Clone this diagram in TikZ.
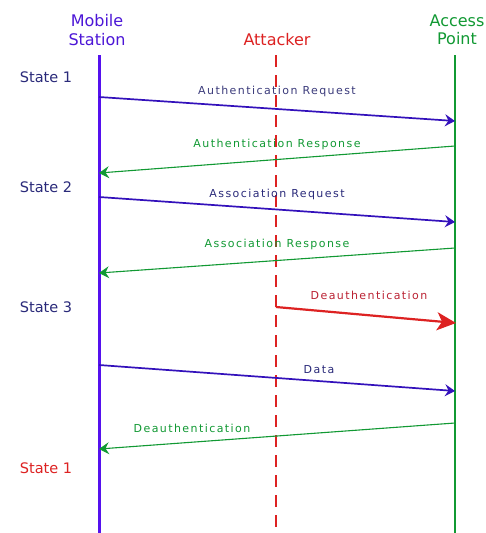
\documentclass[tikz,border=0pt]{standalone}
\usepackage{fontspec}
\setmainfont{DejaVu Sans}
\newfontfamily\labfont[LetterSpace=13]{DejaVu Sans}
\usetikzlibrary{arrows.meta}
\definecolor{msblue}{HTML}{5511EE}
\definecolor{msline}{HTML}{3311BB}
\definecolor{navy}{HTML}{2A2A7A}
\definecolor{apgreen}{HTML}{119933}
\definecolor{atred}{HTML}{DD2222}
\definecolor{darkred}{HTML}{BB2233}
\tikzset{
  x=1pt, y=-1pt,
  header/.style={font=\fontsize{16}{18.5}\selectfont, align=center, inner sep=0pt},
  statelbl/.style={font=\fontsize{14.5}{16}\selectfont, text=navy, inner sep=0pt},
  msglbl/.style={font=\labfont\fontsize{11}{12}\selectfont, inner sep=0pt},
  toap/.style={draw=msline, line width=1.7pt, -{Stealth[length=10pt,width=12pt,inset=3.5pt]}},
  toms/.style={draw=apgreen, line width=1.1pt, -{Stealth[length=10pt,width=12pt,inset=3.5pt]}},
  attack/.style={draw=atred, line width=2.2pt, -{Stealth[length=19pt,width=18pt,inset=5pt]}},
}
\begin{document}
\begin{tikzpicture}
\useasboundingbox (0,0) rectangle (486,533);
\fill[white] (0,0) rectangle (486,533);

% participants
\node[header, text=msblue!80!navy] (ms) at (97,30) {Mobile\\Station};
\node[header, text=atred] (at) at (277,40) {Attacker};
\node[header, text=apgreen] (ap) at (457,30) {Access\\Point};

% lifelines
\coordinate (mstop) at (99,55);  \coordinate (msbot) at (99,533);
\coordinate (attop) at (276,55); \coordinate (atbot) at (276,533);
\coordinate (aptop) at (455,55); \coordinate (apbot) at (455,533);
\draw[msblue, line width=3pt] (mstop) -- (msbot);
\draw[atred, line width=2.5pt, dash pattern=on 12pt off 8pt] (attop) -- (atbot);
\draw[apgreen, line width=1.8pt] (aptop) -- (apbot);

% states
\node[statelbl] (s1) at (46,77) {State 1};
\node[statelbl] (s2) at (46,187) {State 2};
\node[statelbl] (s3) at (46,307) {State 3};
\node[statelbl, text=atred] (s4) at (46,468) {State 1};

% message end points
\coordinate (m1a) at (99,97);   \coordinate (m1b) at (455,121);
\coordinate (m2a) at (455,146); \coordinate (m2b) at (99,173);
\coordinate (m3a) at (99,197);  \coordinate (m3b) at (455,222);
\coordinate (m4a) at (455,248); \coordinate (m4b) at (99,273);
\coordinate (m5a) at (276,307); \coordinate (m5b) at (456,323);
\coordinate (m6a) at (99,365);  \coordinate (m6b) at (455,391);
\coordinate (m7a) at (455,423); \coordinate (m7b) at (99,449);

% messages
\draw[toap] (m1a) -- (m1b);
\node[msglbl, text=navy!80!gray] (l1) at (277,91) {Authentication Request};
\draw[toms] (m2a) -- (m2b);
\node[msglbl, text=apgreen] (l2) at (277,144) {Authentication Response};
\draw[toap] (m3a) -- (m3b);
\node[msglbl, text=navy] (l3) at (277,194) {Association Request};
\draw[toms] (m4a) -- (m4b);
\node[msglbl, text=apgreen] (l4) at (277,244) {Association Response};
\draw[attack] (m5a) -- (m5b);
\node[msglbl, text=darkred] (l5) at (369,295) {Deauthentication};
\draw[toap] (m6a) -- (m6b);
\node[msglbl, text=navy] (l6) at (319,370) {Data};
\draw[toms] (m7a) -- (m7b);
\node[msglbl, text=apgreen] (l7) at (192,428) {Deauthentication};
\end{tikzpicture}
\end{document}
